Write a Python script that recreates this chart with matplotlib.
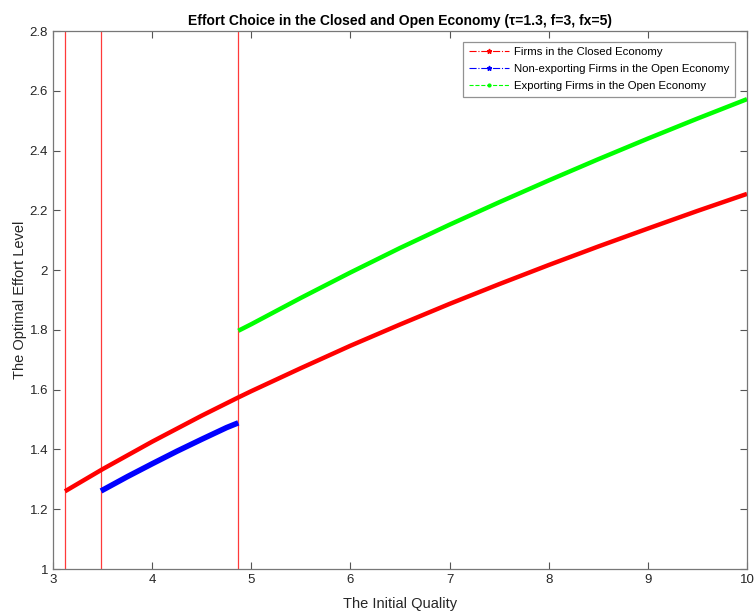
import matplotlib
matplotlib.use("Agg")
import matplotlib.pyplot as plt
from matplotlib.lines import Line2D

plt.rcParams["font.family"] = ["Liberation Sans", "DejaVu Sans"]

# cutoff qualities (vertical lines)
cutoffs = [3.121, 3.484, 4.869]

# firms in the closed economy
closed_q = [3.121, 3.5, 4.0, 4.5, 4.869, 5.0, 5.5, 6.0, 6.5, 7.0, 7.5, 8.0, 8.5, 9.0, 9.5, 10.0]
closed_e = [1.260, 1.334, 1.426, 1.513, 1.574, 1.595, 1.672, 1.747, 1.818, 1.887,
            1.953, 2.017, 2.079, 2.139, 2.198, 2.255]

# non-exporting firms in the open economy
nonexp_q = [3.484, 3.75, 4.0, 4.25, 4.5, 4.75, 4.869]
nonexp_e = [1.261, 1.309, 1.352, 1.394, 1.434, 1.473, 1.489]

# exporting firms in the open economy
exp_q = [4.869, 5.0, 5.5, 6.0, 6.5, 7.0, 7.5, 8.0, 8.5, 9.0, 9.5, 10.0]
exp_e = [1.797, 1.819, 1.907, 1.992, 2.074, 2.152, 2.227, 2.300, 2.371, 2.440, 2.507, 2.572]

yticks = [1, 1.2, 1.4, 1.6, 1.8, 2, 2.2, 2.4, 2.6, 2.8]
ytick_labels = ["1", "1.2", "1.4", "1.6", "1.8", "2", "2.2", "2.4", "2.6", "2.8"]
xticks = [3, 4, 5, 6, 7, 8, 9, 10]

fig = plt.figure(figsize=(7.54, 6.12), dpi=100)
ax = fig.add_axes([53 / 754, 43 / 612, 694 / 754, 538 / 612])

for c in cutoffs:
    ax.axvline(c, color="#ff3a3a", lw=0.9)

ax.plot(closed_q, closed_e, color="#ff0000", lw=3.2, solid_capstyle="butt")
ax.plot(nonexp_q, nonexp_e, color="#0000ff", lw=4, solid_capstyle="butt")
ax.plot(exp_q, exp_e, color="#00ff00", lw=3.2, solid_capstyle="butt")

ax.set_xlim(3, 10)
ax.set_ylim(1, 2.8)
ax.set_xticks(xticks)
ax.set_xticklabels([str(t) for t in xticks])
ax.set_yticks(yticks)
ax.set_yticklabels(ytick_labels)
ax.tick_params(direction="in", top=True, right=True, length=5, width=0.8,
               colors="#555555", labelcolor="#262626", labelsize=9.5)
for s in ax.spines.values():
    s.set_color("#777777")
    s.set_linewidth(0.9)

ax.set_xlabel("The Initial Quality", fontsize=10.5, color="#262626", labelpad=8)
ax.set_ylabel("The Optimal Effort Level", fontsize=10.5, color="#262626", labelpad=2)
ax.set_title("Effort Choice in the Closed and Open Economy (τ=1.3, f=3, fx=5)",
             fontsize=10, fontweight="bold", pad=4)

handles = [
    Line2D([], [], color="#ff0000", ls="-.", marker="*", ms=3.5, lw=0.8),
    Line2D([], [], color="#0000ff", ls="-.", marker="*", ms=3.5, lw=0.8),
    Line2D([], [], color="#00ff00", ls="--", marker=".", ms=4, lw=0.8),
]
labels = ["Firms in the Closed Economy",
          "Non-exporting Firms in the Open Economy",
          "Exporting Firms in the Open Economy"]
leg = ax.legend(handles, labels, loc="upper right", bbox_to_anchor=(0.983, 0.98),
                fontsize=8.2, frameon=True, fancybox=False, handlelength=3.5,
                borderpad=0.5, labelspacing=0.6, handletextpad=0.45, borderaxespad=0)
leg.get_frame().set_edgecolor("#777777")
leg.get_frame().set_linewidth(0.9)

fig.savefig("out.png", dpi=100)
